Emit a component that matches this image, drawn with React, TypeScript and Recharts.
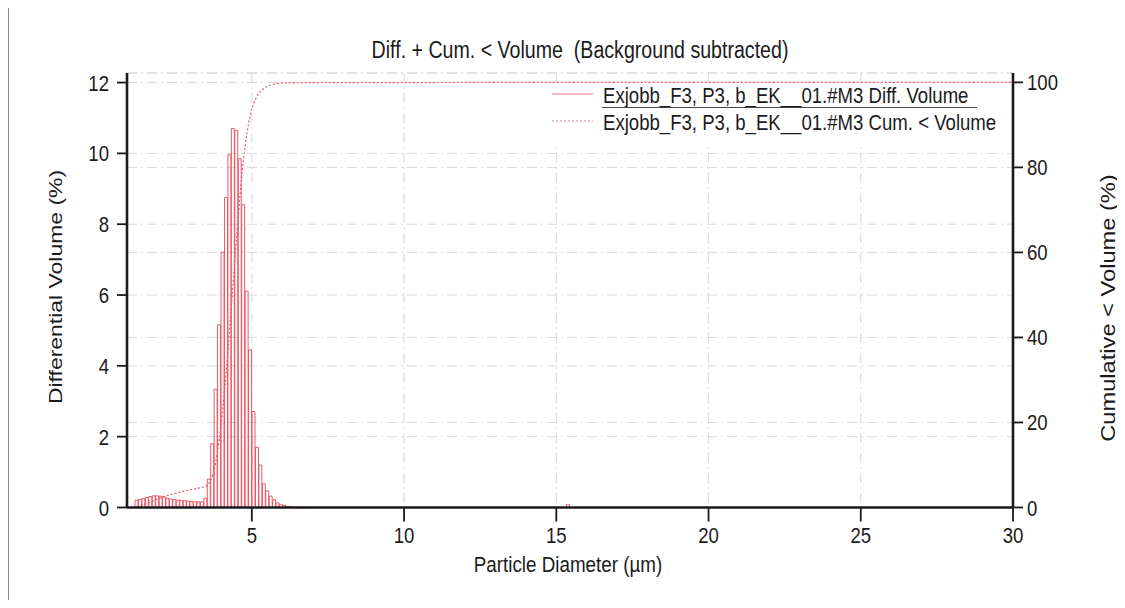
import React from 'react';
import {
  ComposedChart,
  Bar,
  Line,
  XAxis,
  YAxis,
  CartesianGrid,
  Customized,
} from 'recharts';

// Particle size distribution, channel centres in µm
const diameters = [
  1.22, 1.333, 1.446, 1.559, 1.672, 1.785, 1.898, 2.011, 2.124, 2.237,
  2.35, 2.463, 2.576, 2.689, 2.802, 2.915, 3.028, 3.141, 3.254, 3.367,
  3.48, 3.593, 3.706, 3.819, 3.932, 4.045, 4.158, 4.271, 4.384, 4.497,
  4.61, 4.723, 4.836, 4.949, 5.062, 5.175, 5.288, 5.401, 5.514, 5.627,
  5.74, 5.853, 5.966, 6.079, 6.192, 6.305, 6.418, 6.531, 6.644, 6.757,
];

// Differential volume (%) per channel
const diffVolume = [
  0.21, 0.23, 0.25, 0.28, 0.31, 0.33, 0.33, 0.32, 0.3, 0.26,
  0.24, 0.22, 0.21, 0.2, 0.19, 0.18, 0.17, 0.16, 0.16, 0.16,
  0.26, 0.8, 1.8, 3.34, 5.16, 7.21, 8.75, 9.96, 10.7, 10.65,
  9.85, 8.55, 6.11, 4.45, 2.71, 1.7, 1.2, 0.67, 0.47, 0.32,
  0.22, 0.13, 0.08, 0.06, 0.03, 0.02, 0.01, 0.01, 0.01, 0.01,
];

// Cumulative < volume (%) per channel
const cumVolume = [
  0.21, 0.44, 0.69, 0.97, 1.28, 1.61, 1.94, 2.26, 2.56, 2.82,
  3.06, 3.28, 3.49, 3.69, 3.88, 4.06, 4.23, 4.39, 4.55, 4.71,
  4.97, 5.77, 7.57, 10.91, 16.07, 23.28, 32.03, 41.99, 52.69, 63.34,
  73.19, 81.74, 87.85, 92.3, 95.01, 96.71, 97.91, 98.58, 99.05, 99.37,
  99.59, 99.72, 99.8, 99.86, 99.88, 99.89, 99.9, 99.91, 99.92, 99.92,
];

// Coarse tail: isolated channel near 15.4 µm and the end of the range
const tailDiameters = [15.39, 30];
const tailDiff: (number | null)[] = [0.08, null];
const tailCum = [100, 100];

const xTicks = [5, 10, 15, 20, 25, 30];
const diffTicks = [0, 2, 4, 6, 8, 10, 12];
const cumTicks = [0, 20, 40, 60, 80, 100];

const seriesNames = [
  'Exjobb_F3, P3, b_EK__01.#M3 Diff. Volume',
  'Exjobb_F3, P3, b_EK__01.#M3 Cum. < Volume',
];
const chartTitle = 'Diff. + Cum. < Volume  (Background subtracted)';
const xTitle = 'Particle Diameter (µm)';
const leftTitle = 'Differential Volume (%)';
const rightTitle = 'Cumulative < Volume (%)';

const data = [
  ...diameters.map((d, i) => ({ d, diff: diffVolume[i], cum: cumVolume[i] })),
  ...tailDiameters.map((d, i) => ({ d, diff: tailDiff[i], cum: tailCum[i] })),
];

const FONT = '"Liberation Sans", Arial, Helvetica, sans-serif';
const STRETCH = 1.22;
const RED = '#ec5864';
const FRAME = '#1a1a1a';
const TEXT = '#1b1b1b';
const GRID = '#d9d9d9';

function SText({ x, y, anchor, size, vertical, children }: any) {
  const t = vertical
    ? `translate(${x},${y}) scale(1,${STRETCH}) rotate(-90)`
    : `translate(${x},${y}) scale(1,${STRETCH})`;
  return (
    <text
      transform={t}
      textAnchor={anchor}
      fontSize={size}
      fontFamily={FONT}
      fill={TEXT}
      style={{ whiteSpace: 'pre' }}
    >
      {children}
    </text>
  );
}

const BottomTick = ({ x, y, payload }: any) => (
  <SText x={x} y={y + 19.5} anchor="middle" size={18.6}>
    {payload.value}
  </SText>
);
const LeftTick = ({ x, y, payload }: any) => (
  <SText x={x} y={y + 8} anchor="end" size={18.6}>
    {payload.value}
  </SText>
);
const RightTick = ({ x, y, payload }: any) => (
  <SText x={x} y={y + 8} anchor="start" size={18.6}>
    {payload.value}
  </SText>
);

const Decorations = () => (
  <g>
    <SText x={571} y={50} anchor="middle" size={19.6}>
      {chartTitle}
    </SText>
    <SText x={559} y={564} anchor="middle" size={18.8}>
      {xTitle}
    </SText>
    <SText x={53} y={279} anchor="middle" size={18.8} vertical>
      {leftTitle}
    </SText>
    <SText x={1106} y={300} anchor="middle" size={19.4} vertical>
      {rightTitle}
    </SText>
    {/* legend */}
    <rect x={540} y={78} width={460} height={58} fill="#ffffff" />
    <line x1={543} x2={584} y1={86} y2={86} stroke="#f07884" strokeWidth={1.2} />
    <SText x={594} y={94.7} anchor="start" size={18.6}>
      {seriesNames[0]}
    </SText>
    <line x1={593} x2={968} y1={99.5} y2={99.5} stroke="#444" strokeWidth={1} />
    <line
      x1={543}
      x2={584}
      y1={113}
      y2={113}
      stroke="#f07884"
      strokeWidth={1.2}
      strokeDasharray="2 2"
    />
    <SText x={594} y={122} anchor="start" size={18.6}>
      {seriesNames[1]}
    </SText>
  </g>
);

export default function App() {
  return (
    <div
      style={{
        width: 1117,
        height: 592,
        borderLeft: '1px solid #8c8c8c',
        background: '#fff',
      }}
    >
      <ComposedChart
        width={1116}
        height={592}
        data={data}
        margin={{ top: 65, right: 52, bottom: 52.5, left: 58 }}
        barCategoryGap={0}
        barGap={0}
      >
        <CartesianGrid
          yAxisId="L"
          stroke={GRID}
          strokeDasharray="10 4 2 4"
          vertical
          horizontal
        />
        <CartesianGrid
          yAxisId="R"
          stroke={GRID}
          strokeDasharray="10 4 2 4"
          vertical={false}
          horizontal
        />
        <Bar
          yAxisId="L"
          dataKey="diff"
          name={seriesNames[0]}
          fill="none"
          stroke={RED}
          strokeWidth={1}
          isAnimationActive={false}
        />
        <Line
          yAxisId="R"
          dataKey="cum"
          name={seriesNames[1]}
          type="monotone"
          stroke={RED}
          strokeWidth={1.2}
          strokeDasharray="2 2"
          dot={false}
          activeDot={false}
          isAnimationActive={false}
        />
        <XAxis
          dataKey="d"
          type="number"
          domain={[0.9, 30]}
          ticks={xTicks}
          allowDataOverflow
          height={40}
          tickSize={14}
          tickMargin={2}
          tick={<BottomTick />}
          axisLine={{ stroke: FRAME, strokeWidth: 2.6 }}
          tickLine={{ stroke: FRAME, strokeWidth: 1.8 }}
        />
        <XAxis
          xAxisId="top"
          orientation="top"
          type="number"
          domain={[0.9, 30]}
          allowDataOverflow
          height={0}
          tick={false}
          tickLine={false}
          axisLine={{ stroke: FRAME, strokeWidth: 2.6 }}
        />
        <YAxis
          yAxisId="L"
          orientation="left"
          type="number"
          domain={[0, 12.27]}
          ticks={diffTicks}
          allowDataOverflow
          width={60}
          tickSize={10}
          tickMargin={8}
          tick={<LeftTick />}
          axisLine={{ stroke: FRAME, strokeWidth: 2.6 }}
          tickLine={{ stroke: FRAME, strokeWidth: 1.8 }}
        />
        <YAxis
          yAxisId="R"
          orientation="right"
          type="number"
          domain={[0, 102.2]}
          ticks={cumTicks}
          allowDataOverflow
          width={60}
          tickSize={10}
          tickMargin={4}
          tick={<RightTick />}
          axisLine={{ stroke: FRAME, strokeWidth: 2.6 }}
          tickLine={{ stroke: FRAME, strokeWidth: 1.8 }}
        />
        <Customized component={Decorations} />
      </ComposedChart>
    </div>
  );
}
